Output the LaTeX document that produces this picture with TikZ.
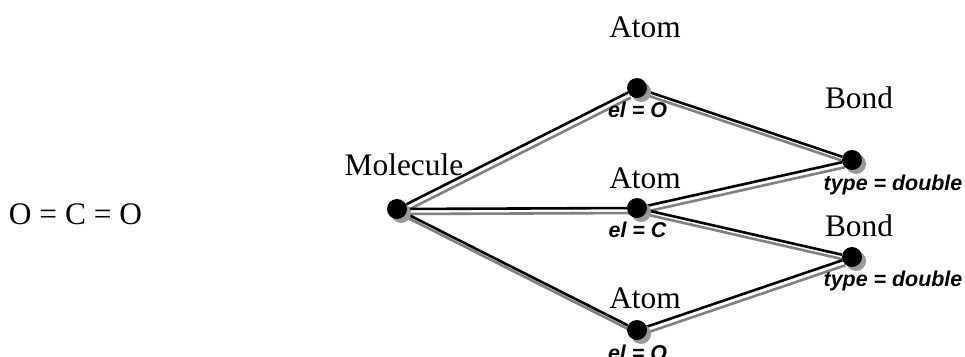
\documentclass[tikz,border=0pt]{standalone}
\usepackage{fontspec}
\setmainfont{Liberation Serif}
\setsansfont{Liberation Sans}
\usetikzlibrary{backgrounds}

\begin{document}
\begin{tikzpicture}[
        x=1bp, y=1bp,
        dot/.style={
            circle,
            fill=black,
            inner sep=0pt,
            minimum size=20bp,
            preaction={fill=black!40, transform canvas={shift={(4bp,-4bp)}}}
        },
        title/.style={
            font=\fontsize{31.5}{34}\selectfont,
            anchor=base,
            inner sep=0pt
        },
        attr/.style={
            font=\sffamily\bfseries\itshape\fontsize{21.5}{23}\selectfont,
            anchor=base,
            inner sep=0pt
        },
        link/.style={
            line width=2.6bp,
            preaction={draw=black!50, line width=2.6bp, transform canvas={shift={(3bp,-5bp)}}}
        }
    ]

        \useasboundingbox (0,0) rectangle (965,-356);

        \node[title] (formula) at (75.5,-224) {O = C = O};

        \node[dot] (mol) at (397,-209) {};
        \node[dot] (o1) at (637,-88) {};
        \node[dot] (c) at (637,-208) {};
        \node[dot] (o2) at (637,-330) {};
        \node[dot] (b1) at (852,-160) {};
        \node[dot] (b2) at (852,-257) {};

        \node[title] (moltitle) at (404,-175) {Molecule};
        \node[title] (o1title) at (645,-37) {Atom};
        \node[title] (ctitle) at (645,-188) {Atom};
        \node[title] (o2title) at (645,-308) {Atom};
        \node[title] (b1title) at (859,-108) {Bond};
        \node[title] (b2title) at (859,-236) {Bond};

        \node[attr] (o1el) at (637.5,-117) {el = O};
        \node[attr] (cel) at (637.5,-237) {el = C};
        \node[attr] (o2el) at (637.5,-360) {el = O};
        \node[attr] (b1type) at (893,-190) {type = double};
        \node[attr] (b2type) at (893,-286) {type = double};

        \begin{pgfonlayer}{background}
            \draw[link] (mol) -- (o1);
            \draw[link] (mol) -- (c);
            \draw[link] (mol) -- (o2);
            \draw[link] (o1) -- (b1);
            \draw[link] (c) -- (b1);
            \draw[link] (c) -- (b2);
            \draw[link] (o2) -- (b2);
        \end{pgfonlayer}

    \end{tikzpicture}
\end{document}
